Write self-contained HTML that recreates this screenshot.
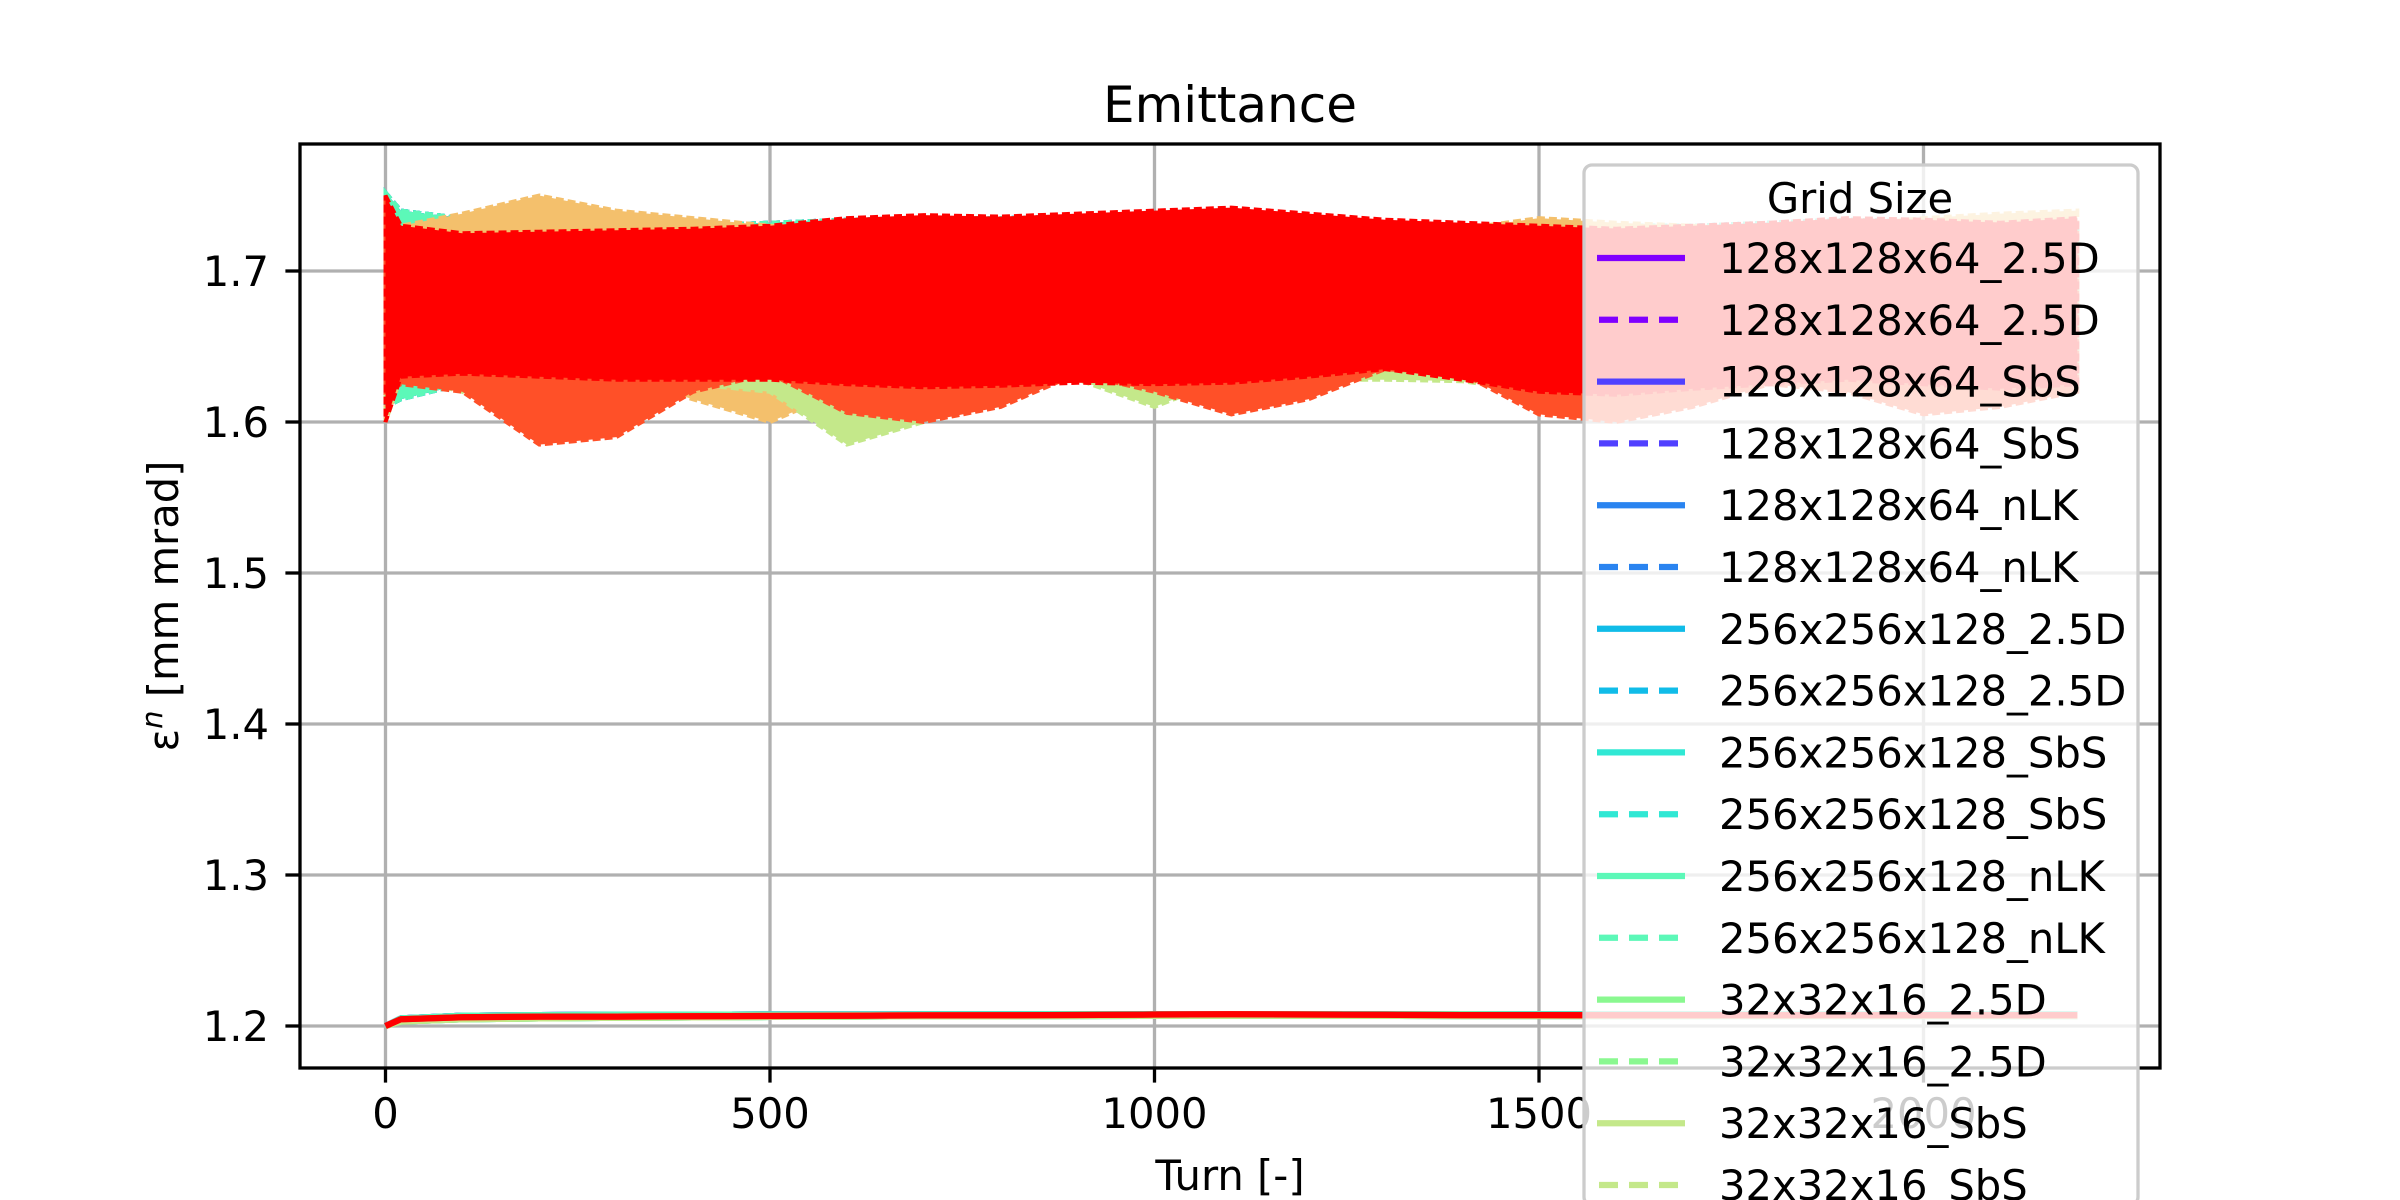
<!DOCTYPE html>
<html><head><meta charset="utf-8">
<style>
html,body{margin:0;padding:0;background:#fff;width:2400px;height:1200px;overflow:hidden;}
svg{display:block;}
text{font-family:"DejaVu Sans","Liberation Sans",sans-serif;}
</style></head>
<body>
<svg id="chart" width="2400" height="1200" viewBox="0 0 2400 1200" xmlns="http://www.w3.org/2000/svg">
<defs><clipPath id="plotclip"><rect x="300" y="144" width="1860" height="924"/></clipPath></defs>
<rect x="0" y="0" width="2400" height="1200" fill="#fff"/>
<g id="grid"></g>
<g id="series" clip-path="url(#plotclip)"></g>
<g id="axes"></g>
<text x="1230" y="122" font-size="50" text-anchor="middle">Emittance</text>
<text x="1230" y="1190" font-size="41.7" text-anchor="middle">Turn [-]</text>
<text transform="translate(178,606) rotate(-90)" font-size="41.7" text-anchor="middle">ε<tspan font-size="29" dy="-16" font-style="italic">n</tspan><tspan dy="16"> [mm mrad]</tspan></text>
<g id="legend"></g>
</svg>
<script>
// ---- data ----
const turns = [0,20,100,200,300,400,500,600,700,800,900,1000,1100,1200,1300,1400,1500,1600,1700,1800,1900,2000,2100,2200];
const xTicks = [0,500,1000,1500,2000];
const yTicks = [1.2,1.3,1.4,1.5,1.6,1.7];
const labels = ["128x128x64_2.5D","128x128x64_2.5D","128x128x64_SbS","128x128x64_SbS","128x128x64_nLK","128x128x64_nLK","256x256x128_2.5D","256x256x128_2.5D","256x256x128_SbS","256x256x128_SbS","256x256x128_nLK","256x256x128_nLK","32x32x16_2.5D","32x32x16_2.5D","32x32x16_SbS","32x32x16_SbS","32x32x16_nLK","32x32x16_nLK"];
const colors = ["#8000ff","#8000ff","#5040ff","#5040ff","#2a84f0","#2a84f0","#10bce8","#10bce8","#30e8d4","#30e8d4","#5cf8b8","#5cf8b8","#8af890","#8af890","#c4e88a","#c4e88a","#ff5028","#ff0000"];
const lowA = [1.200,1.205,1.2068,1.2072,1.2074,1.2075,1.2076,1.2076,1.2077,1.2077,1.2078,1.2078,1.2079,1.2079,1.2078,1.2078,1.2077,1.2077,1.2077,1.2077,1.2077,1.2077,1.2077,1.2077];
const lowB = [1.200,1.204,1.2055,1.2060,1.2063,1.2066,1.2068,1.2070,1.2071,1.2072,1.2073,1.2074,1.2075,1.2075,1.2074,1.2074,1.2073,1.2073,1.2073,1.2073,1.2073,1.2073,1.2073,1.2073];
const lowC = [1.200,1.203,1.2045,1.2050,1.2054,1.2057,1.2060,1.2062,1.2064,1.2065,1.2066,1.2067,1.2068,1.2068,1.2067,1.2066,1.2066,1.2066,1.2066,1.2066,1.2066,1.2066,1.2066,1.2066];
const lowRed = [1.200,1.2045,1.2058,1.2062,1.2062,1.2064,1.2066,1.2068,1.2070,1.2071,1.2073,1.2076,1.2078,1.2076,1.2074,1.2072,1.2072,1.2071,1.2071,1.2071,1.2071,1.2071,1.2071,1.2071];
const cyanHi = [1.752,1.740,1.735,1.728,1.728,1.730,1.732,1.734,1.735,1.735,1.736,1.738,1.738,1.735,1.732,1.730,1.730,1.730,1.730,1.732,1.734,1.733,1.732,1.733];
const cyanLo = [1.610,1.615,1.625,1.630,1.632,1.630,1.630,1.628,1.627,1.628,1.630,1.630,1.630,1.632,1.636,1.632,1.628,1.625,1.627,1.630,1.630,1.628,1.627,1.628];
const orangeHi = [1.740,1.730,1.738,1.750,1.740,1.735,1.730,1.728,1.726,1.726,1.727,1.728,1.728,1.727,1.726,1.728,1.735,1.732,1.730,1.726,1.730,1.735,1.738,1.740];
const orangeLo = [1.600,1.630,1.640,1.640,1.630,1.615,1.600,1.622,1.632,1.630,1.628,1.630,1.632,1.630,1.630,1.632,1.630,1.628,1.627,1.630,1.630,1.628,1.627,1.630];
const greenHi = [1.730,1.725,1.720,1.718,1.720,1.722,1.722,1.720,1.722,1.724,1.724,1.725,1.724,1.722,1.722,1.722,1.722,1.722,1.722,1.722,1.722,1.722,1.722,1.722];
const greenLo = [1.600,1.630,1.620,1.597,1.610,1.625,1.620,1.585,1.600,1.630,1.628,1.610,1.630,1.628,1.628,1.627,1.620,1.618,1.622,1.625,1.625,1.622,1.620,1.622];
const orHi = [1.745,1.728,1.722,1.722,1.724,1.726,1.728,1.730,1.732,1.732,1.734,1.736,1.736,1.733,1.730,1.728,1.728,1.727,1.728,1.730,1.732,1.732,1.731,1.732];
const orLo = [1.620,1.625,1.620,1.585,1.590,1.620,1.632,1.606,1.600,1.610,1.632,1.620,1.605,1.615,1.635,1.632,1.605,1.600,1.610,1.625,1.620,1.605,1.610,1.620];
const redHi = [1.750,1.730,1.725,1.726,1.727,1.728,1.730,1.735,1.737,1.736,1.738,1.740,1.742,1.738,1.734,1.732,1.730,1.728,1.730,1.732,1.735,1.734,1.732,1.735];
const redLo = [1.600,1.630,1.632,1.630,1.628,1.628,1.628,1.625,1.623,1.624,1.626,1.625,1.626,1.630,1.635,1.628,1.620,1.618,1.622,1.625,1.628,1.625,1.622,1.625];

const lowSeries = [lowA,lowA,lowB,lowA,lowA,lowB,lowC,lowB,lowA,lowC,lowB,lowA,lowC,lowC,lowC,lowB,lowRed,lowRed];
const bandSeries = [
  {i:1,hi:cyanHi,lo:cyanLo},{i:3,hi:cyanHi,lo:cyanLo},{i:5,hi:cyanHi,lo:cyanLo},
  {i:7,hi:cyanHi,lo:cyanLo},{i:9,hi:cyanHi,lo:cyanLo},{i:11,hi:cyanHi,lo:cyanLo},
  {i:13,hi:orangeHi,lo:orangeLo,color:"#f4c06c"},{i:15,hi:greenHi,lo:greenLo},
  {i:16,hi:orHi,lo:orLo},{i:17,hi:redHi,lo:redLo}
];

const L=300,R=2160,T=144,B=1068;
const X0=385.5, PX_PER_TURN=0.769;
function xs(t){return X0+t*PX_PER_TURN;}
function ys(v){return 271+(1.7-v)*1510;}
const NS="http://www.w3.org/2000/svg";
function mk(tag,attrs,parent){const e=document.createElementNS(NS,tag);for(const k in attrs)e.setAttribute(k,attrs[k]);parent.appendChild(e);return e;}

const grid=document.getElementById('grid');
xTicks.forEach(t=>{
  const g=mk('line',{x1:xs(t),x2:xs(t),y1:T,y2:B,stroke:'#b0b0b0','stroke-width':3.3},grid);
  
  
});
yTicks.forEach(v=>{
  const g=mk('line',{x1:L,x2:R,y1:ys(v),y2:ys(v),stroke:'#b0b0b0','stroke-width':3.3},grid);
  
  
});

const ser=document.getElementById('series');
lowSeries.forEach((arr,i)=>{
  let d='';arr.forEach((v,k)=>{d+=(k?'L':'M')+xs(turns[k]).toFixed(1)+' '+ys(v).toFixed(1);});
  const p=mk('path',{d:d,fill:'none',stroke:colors[i],'stroke-width':6.25,'stroke-linejoin':'round'},ser);
  
  
});
bandSeries.forEach(b=>{
  let d='';
  b.hi.forEach((v,k)=>{d+=(k?'L':'M')+xs(turns[k]).toFixed(1)+' '+ys(v).toFixed(1);});
  for(let k=b.lo.length-1;k>=0;k--){d+='L'+xs(turns[k]).toFixed(1)+' '+ys(b.lo[k]).toFixed(1);}
  d+='Z';
  const c=b.color||colors[b.i];
  const p=mk('path',{d:d,fill:c,stroke:c,'stroke-width':4,'stroke-dasharray':'8,4'},ser);
  
  
});

const ax=document.getElementById('axes');
const sp=mk('rect',{x:L,y:T,width:R-L,height:B-T,fill:'none',stroke:'#000','stroke-width':3.3},ax);


xTicks.forEach(t=>{
  const tk=mk('line',{x1:xs(t),x2:xs(t),y1:B,y2:B+14.6,stroke:'#000','stroke-width':3.3},ax);
  
  
  const tx=mk('text',{x:xs(t),y:B+60,'font-size':41.7,'text-anchor':'middle'},ax);
  tx.textContent=String(t);
  
  
});
yTicks.forEach(v=>{
  const tk=mk('line',{x1:L-14.6,x2:L,y1:ys(v),y2:ys(v),stroke:'#000','stroke-width':3.3},ax);
  
  
  const tx=mk('text',{x:269,y:ys(v)+15,'font-size':41.7,'text-anchor':'end'},ax);
  tx.textContent=v.toFixed(1);
  
  
});

const lg=document.getElementById('legend');
const box=mk('rect',{x:1584,y:165,width:554,height:1040,rx:8,ry:8,fill:'rgba(255,255,255,0.8)',stroke:'#cccccc','stroke-width':3.3},lg);


const lt=mk('text',{x:1860,y:213,'font-size':41.7,'text-anchor':'middle'},lg);
lt.textContent='Grid Size';


labels.forEach((lab,i)=>{
  const cy=258+i*61.8;
  if(cy>1230) return;
  const g=mk('g',{},lg);
  
  
  const ln=mk('line',{x1:1597,x2:1685,y1:cy,y2:cy,stroke:colors[i],'stroke-width':6.25},g);
  if(i%2===1){ln.setAttribute('stroke-dasharray','19,11');ln.setAttribute('x1',1599);}
  
  
  const tx=mk('text',{x:1719,y:cy+15,'font-size':41.7},g);
  tx.textContent=lab;
  
  
});
</script>
</body></html>
